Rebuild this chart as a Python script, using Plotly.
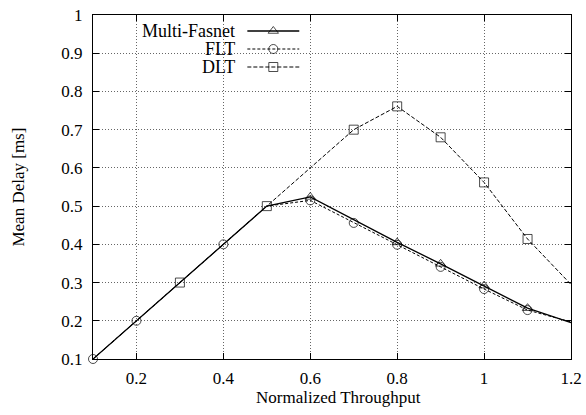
import plotly.graph_objects as go

# ---- data ----
x_vals = [0.1, 0.2, 0.3, 0.4, 0.5, 0.6, 0.7, 0.8, 0.9, 1.0, 1.1, 1.2]
multi_fasnet = [0.1, 0.2, 0.3, 0.4, 0.5, 0.524, 0.465, 0.405, 0.349, 0.292, 0.233, 0.195]
flt = [0.1, 0.2, 0.3, 0.4, 0.5, 0.515, 0.456, 0.399, 0.341, 0.283, 0.228, 0.197]
dlt_x = [0.1, 0.2, 0.3, 0.4, 0.5, 0.7, 0.8, 0.9, 1.0, 1.1, 1.2]
dlt = [0.1, 0.2, 0.3, 0.4, 0.5, 0.700, 0.761, 0.680, 0.562, 0.414, 0.295]

# which points show a marker
multi_show = [0, 0, 0, 0, 0, 1, 0, 1, 1, 1, 1, 0]
flt_show = [1, 1, 0, 1, 0, 1, 1, 1, 1, 1, 1, 0]
dlt_show = [0, 0, 1, 0, 1, 1, 1, 1, 1, 1, 0]

x_ticks = [0.2, 0.4, 0.6, 0.8, 1.0, 1.2]
x_ticklabels = ["0.2", "0.4", "0.6", "0.8", "1", "1.2"]
y_ticks = [0.1, 0.2, 0.3, 0.4, 0.5, 0.6, 0.7, 0.8, 0.9, 1.0]
y_ticklabels = ["0.1", "0.2", "0.3", "0.4", "0.5", "0.6", "0.7", "0.8", "0.9", "1"]

series_names = ["Multi-Fasnet", "FLT", "DLT"]
x_title = "Normalized Throughput"
y_title = "Mean Delay [ms]"

FONT = "Liberation Serif, Times New Roman, serif"
FS = 17
W, H = 586, 415
L, R, T, B = 92.5, 571, 15, 359

def px_x(p):
    return (p - L) / (R - L)

def px_y(p):
    return (B - p) / (B - T)

fig = go.Figure()

def add_series(xs, ys, show, symbol, dash, width, name):
    fig.add_trace(go.Scatter(
        x=xs, y=ys, mode="lines+markers", name=name, showlegend=False,
        line=dict(color="black", width=width, dash=dash),
        marker=dict(symbol=symbol, size=[9 if s else 0 for s in show],
                    color="black", line=dict(color="black", width=1)),
        cliponaxis=False,
    ))

add_series(x_vals, multi_fasnet, multi_show, "triangle-up-open", "solid", 1.3, series_names[0])
add_series(x_vals, flt, flt_show, "circle-open", "3px,2px", 1.0, series_names[1])
add_series(dlt_x, dlt, dlt_show, "square-open", "4px,2px", 1.0, series_names[2])

# ---- custom legend (text left, sample right) on a pixel-space overlay axis ----
leg_y = [31, 49, 67]
leg_syms = ["triangle-up-open", "circle-open", "square-open"]
leg_dash = ["solid", "3px,2px", "4px,2px"]
leg_w = [1.3, 1.0, 1.0]
for name, yy, sym, dsh, lw in zip(series_names, leg_y, leg_syms, leg_dash, leg_w):
    fig.add_trace(go.Scatter(
        x=[247, 273, 299], y=[yy, yy, yy], xaxis="x2", yaxis="y2",
        mode="lines+markers", showlegend=False, hoverinfo="skip",
        line=dict(color="black", width=lw, dash=dsh),
        marker=dict(symbol=sym, size=[0, 9, 0], color="black",
                    line=dict(color="black", width=1)),
        cliponaxis=False,
    ))
    fig.add_annotation(x=px_x(237), y=px_y(yy), xref="paper", yref="paper", text=name,
                       showarrow=False, xanchor="right", yanchor="middle",
                       font=dict(family=FONT, size=18, color="black"))

# axis titles
fig.add_annotation(x=px_x(338), y=px_y(397), xref="paper", yref="paper", text=x_title,
                   showarrow=False, xanchor="center", yanchor="middle",
                   font=dict(family=FONT, size=FS, color="black"))
fig.add_annotation(x=px_x(17), y=px_y(187), xref="paper", yref="paper", text=y_title,
                   showarrow=False, xanchor="center", yanchor="middle", textangle=-90,
                   font=dict(family=FONT, size=FS, color="black"))

axis_common = dict(
    showline=True, linecolor="black", linewidth=1.2, mirror="ticks",
    ticks="inside", ticklen=6, tickcolor="black", tickwidth=1,
    showgrid=True, gridcolor="#666", griddash="1px,2px", gridwidth=1,
    zeroline=False, automargin=False,
    tickfont=dict(family=FONT, size=FS, color="black"),
)

fig.update_layout(
    width=W, height=H,
    margin=dict(l=L, r=W - R, t=T, b=H - B, pad=0, autoexpand=False),
    paper_bgcolor="white", plot_bgcolor="white",
    font=dict(family=FONT, size=FS, color="black"),
    xaxis=dict(range=[0.1, 1.2], tickvals=x_ticks, ticktext=x_ticklabels,
               ticklabelstandoff=3, **axis_common),
    yaxis=dict(range=[0.1, 1.0], tickvals=y_ticks, ticktext=y_ticklabels,
               ticklabelstandoff=6, **axis_common),
    xaxis2=dict(overlaying="x", range=[L, R], visible=False, fixedrange=True),
    yaxis2=dict(overlaying="y", range=[B, T], visible=False, fixedrange=True),
)

fig.write_html("out.html", config={"displayModeBar": False},
               post_script="document.body.style.margin='0';document.body.style.overflow='hidden';")
